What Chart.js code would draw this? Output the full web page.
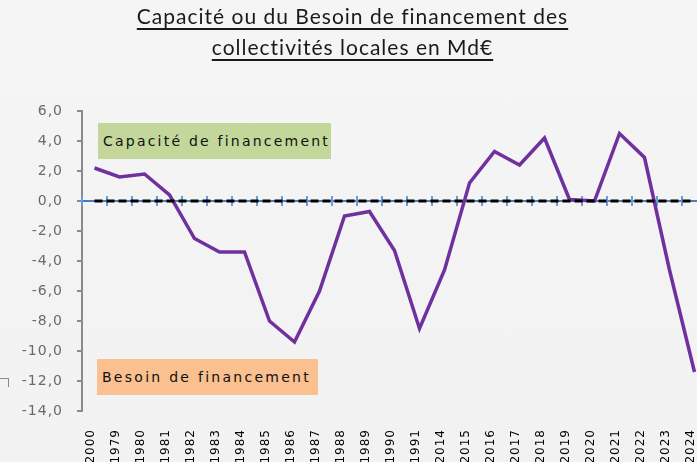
<!DOCTYPE html>
<html>
<head>
<meta charset="utf-8">
<script src="https://cdn.jsdelivr.net/npm/chart.js@4.4.1/dist/chart.umd.min.js"></script>
<style>
  html, body { margin: 0; padding: 0; overflow: hidden; width: 697px; height: 462px; background: #f3f3f3; }
  #wrap { position: relative; width: 697px; height: 462px; overflow: hidden;
    background: linear-gradient(180deg, #f5f5f5 0%, #f2f2f2 100%); }
  canvas { position: absolute; left: 0; top: 0; }
  .title { position: absolute; left: 4px; width: 697px; text-align: center; color: #1a1a1a;
    font-family: Lato, "Open Sans", sans-serif; font-size: 21px; letter-spacing: 1px; text-decoration: underline;
    text-underline-offset: 4px; white-space: nowrap; }
  .box { position: absolute; font-family: "DejaVu Sans", sans-serif; font-size: 14px; color: #111;
    line-height: 36px; padding-left: 5px; box-sizing: border-box; white-space: nowrap; }
  .corner { position: absolute; left: 0; top: 378px; width: 8px; height: 8px;
    border-top: 1px solid #8a8a8a; border-right: 1px solid #8a8a8a; }
</style>
</head>
<body>
<div id="wrap">
  <canvas id="myChart" width="720" height="462"></canvas>
  <div class="title" style="top: 3px;">Capacité ou du Besoin de financement des</div>
  <div class="title" style="top: 34px;">collectivités locales en Md€</div>
  <div class="box" style="left: 98px; top: 123px; width: 233px; height: 36px; background: #c4d79b;"><span data-w="227">Capacité de financement</span></div>
  <div class="box" style="left: 97px; top: 359px; width: 221px; height: 36px; background: #fac090;"><span data-w="209">Besoin de financement</span></div>
  <div class="corner"></div>
</div>
<script>
const categories = ['2000', '1979', '1980', '1981', '1982', '1983', '1984', '1985', '1986', '1987',
  '1988', '1989', '1990', '1991', '2014', '2015', '2016', '2017', '2018', '2019', '2020', '2021',
  '2022', '2023', '2024'];

// Md€
const capaciteBesoin = [2.2, 1.6, 1.8, 0.4, -2.5, -3.4, -3.4, -8.0, -9.4, -6.0, -1.0, -0.7, -3.3,
  -8.5, -4.6, 1.2, 3.3, 2.4, 4.2, 0.1, 0.0, 4.5, 2.9, -4.6, -11.4];

const zeroLine = [0, 0, 0, 0, 0, 0, 0, 0, 0, 0, 0, 0, 0, 0, 0, 0, 0, 0, 0, 0, 0, 0, 0, 0, 0];

const yMin = -14;
const yMax = 6;
const yStep = 2;

// stretch the box labels to the width they have in the original
document.querySelectorAll('.box span').forEach((s) => {
  const n = s.textContent.length;
  const extra = (Number(s.dataset.w) - s.getBoundingClientRect().width) / n;
  s.style.letterSpacing = extra.toFixed(2) + 'px';
});

const axisMarks = {
  id: 'axisMarks',
  beforeLayout(chart) { chart.ctx.letterSpacing = '1px'; },
  beforeDraw(chart) { chart.ctx.letterSpacing = '1px'; },
  // blue category axis crossing at 0, small ticks between categories
  beforeDatasetsDraw(chart) {
    const { ctx, chartArea, scales: { x, y } } = chart;
    const y0 = Math.round(y.getPixelForValue(0));
    const half = (x.getPixelForValue(1) - x.getPixelForValue(0)) / 2;
    ctx.save();
    ctx.fillStyle = '#4a7ebb';
    ctx.fillRect(chartArea.left, y0 - 1, chartArea.right - chartArea.left, 2);
    ctx.fillStyle = '#6b9bd8';
    for (let i = 0; i <= categories.length; i++) {
      const px = Math.round(x.getPixelForValue(i) - half);
      ctx.fillRect(px - 1, y0 - 5, 2, 10);
    }
    ctx.restore();
  },
};

new Chart(document.getElementById('myChart').getContext('2d'), {
  type: 'line',
  data: {
    labels: categories,
    datasets: [
      {
        data: zeroLine,
        borderColor: '#000000',
        borderWidth: 3,
        borderDash: [8, 4],
        pointRadius: 0,
        fill: false,
      },
      {
        data: capaciteBesoin,
        borderColor: '#7030a0',
        borderWidth: 3.5,
        pointRadius: 0,
        tension: 0,
        fill: false,
      },
    ],
  },
  options: {
    responsive: false,
    animation: false,
    devicePixelRatio: 1,
    layout: { padding: { top: 111, right: 13, left: 0, bottom: 0 } },
    plugins: { legend: { display: false }, tooltip: { enabled: false }, title: { display: false } },
    scales: {
      x: {
        type: 'category',
        position: 'bottom',
        offset: true,
        border: { display: false },
        grid: { display: false },
        ticks: {
          autoSkip: false,
          minRotation: 90,
          maxRotation: 90,
          padding: 10,
          labelOffset: -4,
          color: '#000000',
          font: { family: 'DejaVu Sans', size: 12 },
        },
        afterFit(scale) { scale.height = 51; },
      },
      y: {
        position: 'left',
        min: yMin,
        max: yMax,
        border: { display: true, color: '#8a8a8a', width: 2 },
        grid: { drawOnChartArea: false, drawTicks: true, tickLength: 5, color: '#8a8a8a', lineWidth: 2 },
        ticks: {
          stepSize: yStep,
          padding: 14,
          color: '#6a6a6a',
          font: { family: 'DejaVu Sans', size: 14 },
          callback(v) { return v.toFixed(1).replace('.', ','); },
        },
        afterFit(scale) { scale.width = 82; },
      },
    },
  },
  plugins: [axisMarks],
});
</script>
</body>
</html>
